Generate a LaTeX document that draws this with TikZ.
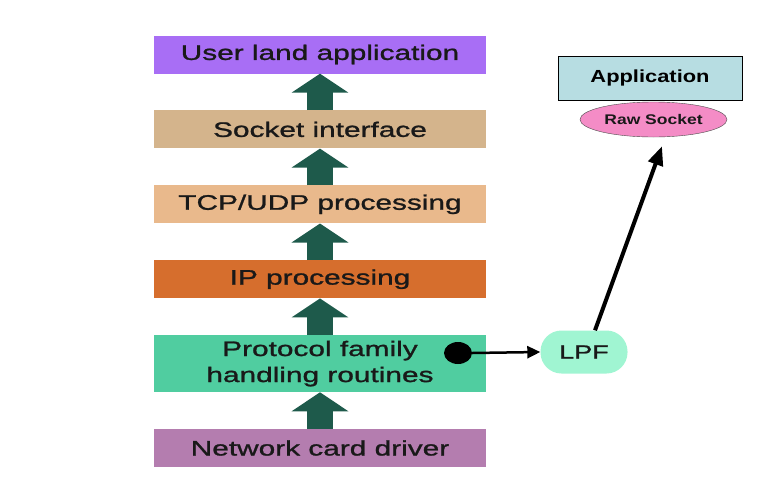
\documentclass[tikz,border=0pt]{standalone}
\usepackage{fontspec}
\newfontfamily\stackfont[FakeStretch=1.42, FakeBold=1.2]{Liberation Sans}
\newfontfamily\appfont[FakeStretch=1.25]{Liberation Sans}
\usepackage{xcolor}
\definecolor{userland}{HTML}{A86EF5}
\definecolor{socketif}{HTML}{D4B48C}
\definecolor{tcpudp}{HTML}{E9B98C}
\definecolor{ipproc}{HTML}{D66E2D}
\definecolor{protofam}{HTML}{50CDA0}
\definecolor{netcard}{HTML}{B47DAF}
\definecolor{stackarrow}{HTML}{1E5A4B}
\definecolor{lpfmint}{HTML}{A0F5D2}
\definecolor{appblue}{HTML}{B7DDE2}
\definecolor{rawpink}{HTML}{F48CC6}
\usepackage{tikz}
\usetikzlibrary{arrows.meta, shapes.geometric, positioning, calc}

\begin{document}
\begin{tikzpicture}[x=1pt, y=-1pt, >=Stealth,
    font=\stackfont\fontsize{21}{26}\selectfont, text=black!90,
    node distance=36.5pt,
    layer/.style={minimum width=332pt, minimum height=38pt, inner sep=0pt, align=center},
    uparrow/.style={line width=26pt, stackarrow, -{Triangle[length=19pt, width=56pt]}}]
  \useasboundingbox (0,0) rectangle (777,496);

  % protocol stack
  \node[layer, fill=userland] (user) at (320,54.5) {User land application};
  \node[layer, fill=socketif, below=of user] (sock) {Socket interface};
  \node[layer, fill=tcpudp, below=of sock] (tcp) {TCP/UDP processing};
  \node[layer, fill=ipproc, below=of tcp] (ip) {IP processing};
  \node[layer, fill=protofam, minimum height=57pt, below=of ip] (proto)
       {Protocol family\\handling routines};
  \node[layer, fill=netcard, below=of proto] (net) {Network card driver};

  \foreach \from/\to in {sock/user, tcp/sock, ip/tcp, proto/ip, net/proto}
    \draw[uparrow] (\from.north) -- (\to.south);

  % packet filter tap
  \node[ellipse, fill=black, minimum width=28pt, minimum height=22pt, inner sep=0pt]
       (tap) at (458,353) {};
  \node[fill=lpfmint, rounded corners=21pt, minimum width=87pt, minimum height=43pt,
        inner sep=0pt, font=\stackfont\fontsize{19}{22}\selectfont] (lpf) at (584,352) {LPF};

  % raw socket application
  \node[draw=black, fill=appblue, minimum width=184pt, minimum height=44pt, inner sep=0pt,
        font=\appfont\bfseries\fontsize{17.5}{20}\selectfont, text=black] (app) at (650,78) {Application};
  \node[ellipse, draw=black!70, fill=rawpink, minimum width=147pt, minimum height=35pt,
        inner sep=0pt, font=\appfont\bfseries\fontsize{14}{16}\selectfont, text=black!90]
        (raw) at (653.5,119.5) {Raw Socket};

  \draw[line width=2.5pt, -{Triangle[length=13pt, width=12pt]}] (tap.east) -- (lpf.west);
  \draw[line width=4pt, -{Triangle[length=19pt, width=15pt]}]
       ($(lpf.north)+(11,0)$) -- ($(raw.south)+(8.5,9)$);
\end{tikzpicture}
\end{document}
